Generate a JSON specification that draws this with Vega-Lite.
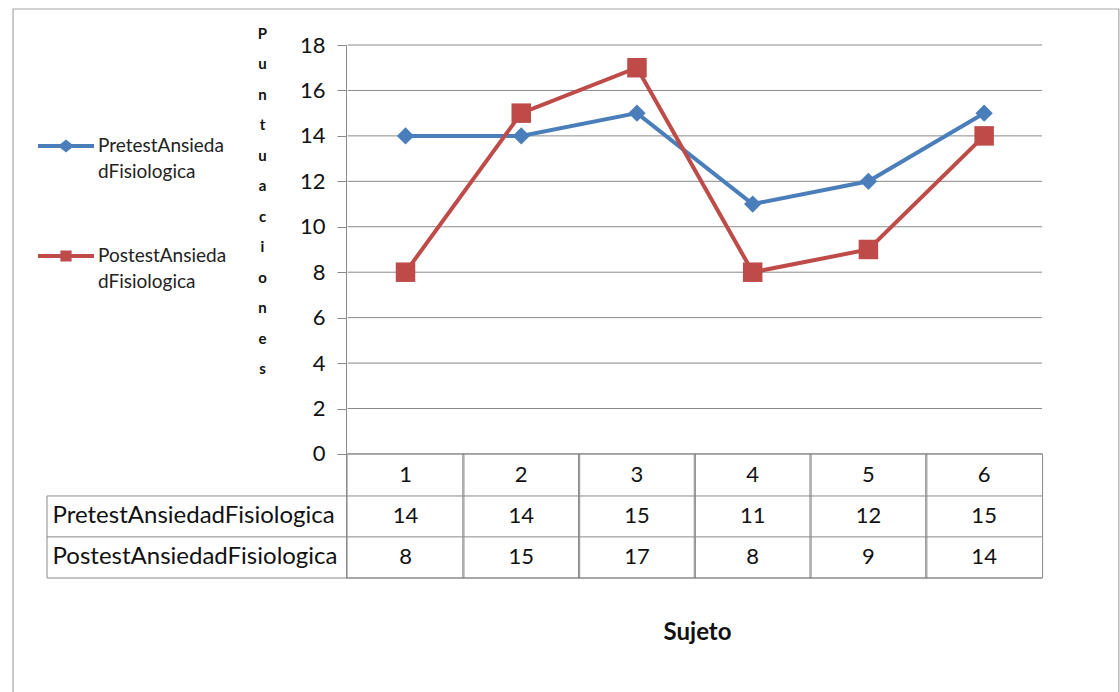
{
  "$schema": "https://vega.github.io/schema/vega-lite/v6.json",
  "autosize": "none",
  "width": 1005,
  "height": 533,
  "padding": {"left": 42, "top": 45, "right": 73, "bottom": 114},
  "background": "white",
  "config": {
    "view": {"stroke": null},
    "text": {"font": "Lato", "fontSize": 22, "color": "#111111"}
  },
  "datasets": {
    "scores": [
      {"Sujeto": 1, "Serie": "PretestAnsiedadFisiologica", "Puntuacion": 14},
      {"Sujeto": 2, "Serie": "PretestAnsiedadFisiologica", "Puntuacion": 14},
      {"Sujeto": 3, "Serie": "PretestAnsiedadFisiologica", "Puntuacion": 15},
      {"Sujeto": 4, "Serie": "PretestAnsiedadFisiologica", "Puntuacion": 11},
      {"Sujeto": 5, "Serie": "PretestAnsiedadFisiologica", "Puntuacion": 12},
      {"Sujeto": 6, "Serie": "PretestAnsiedadFisiologica", "Puntuacion": 15},
      {"Sujeto": 1, "Serie": "PostestAnsiedadFisiologica", "Puntuacion": 8},
      {"Sujeto": 2, "Serie": "PostestAnsiedadFisiologica", "Puntuacion": 15},
      {"Sujeto": 3, "Serie": "PostestAnsiedadFisiologica", "Puntuacion": 17},
      {"Sujeto": 4, "Serie": "PostestAnsiedadFisiologica", "Puntuacion": 8},
      {"Sujeto": 5, "Serie": "PostestAnsiedadFisiologica", "Puntuacion": 9},
      {"Sujeto": 6, "Serie": "PostestAnsiedadFisiologica", "Puntuacion": 14}
    ],
    "ticks": [{"v": 0}, {"v": 2}, {"v": 4}, {"v": 6}, {"v": 8}, {"v": 10}, {"v": 12}, {"v": 14}, {"v": 16}, {"v": 18}],
    "one": [{}]
  },
  "data": {"name": "scores"},
  "layer": [
    {
      "data": {"name": "one"},
      "mark": {"type": "rect", "fill": "white", "fillOpacity": 0, "stroke": "#a6a6a6", "strokeWidth": 1.2},
      "encoding": {
        "x": {"datum": -2.3916, "type": "quantitative"},
        "x2": {"datum": 7.164},
        "y": {"datum": 19.585, "type": "quantitative"},
        "y2": {"datum": -10.83}
      }
    },
    {
      "data": {"name": "ticks"},
      "mark": {"type": "rule", "color": "#8a8a8a", "strokeWidth": 1},
      "encoding": {
        "y": {"field": "v", "type": "quantitative"},
        "x": {"datum": 0.5, "type": "quantitative"},
        "x2": {"datum": 6.5}
      }
    },
    {
      "transform": [{"filter": "datum.Serie == 'PretestAnsiedadFisiologica'"}],
      "mark": {"type": "bar", "fill": "white", "fillOpacity": 0, "stroke": "#8a8a8a", "strokeWidth": 1, "size": 116.9},
      "encoding": {
        "x": {"field": "Sujeto", "type": "quantitative"},
        "y": {"datum": 0, "type": "quantitative"},
        "y2": {"datum": -5.46}
      }
    },
    {
      "data": {"name": "one"},
      "mark": {"type": "rule", "color": "#8a8a8a", "strokeWidth": 1},
      "encoding": {
        "y": {"datum": -1.85, "type": "quantitative"},
        "x": {"datum": -2.098, "type": "quantitative"},
        "x2": {"datum": 6.5}
      }
    },
    {
      "data": {"name": "one"},
      "mark": {"type": "rule", "color": "#8a8a8a", "strokeWidth": 1},
      "encoding": {
        "y": {"datum": -3.65, "type": "quantitative"},
        "x": {"datum": -2.098, "type": "quantitative"},
        "x2": {"datum": 6.5}
      }
    },
    {
      "data": {"name": "one"},
      "mark": {"type": "rule", "color": "#8a8a8a", "strokeWidth": 1},
      "encoding": {
        "y": {"datum": -5.46, "type": "quantitative"},
        "x": {"datum": -2.098, "type": "quantitative"},
        "x2": {"datum": 6.5}
      }
    },
    {
      "data": {"name": "one"},
      "mark": {"type": "rule", "color": "#8a8a8a", "strokeWidth": 1},
      "encoding": {
        "x": {"datum": -2.098, "type": "quantitative"},
        "y": {"datum": -1.85, "type": "quantitative"},
        "y2": {"datum": -5.46}
      }
    },
    {
      "mark": {"type": "line", "strokeWidth": 4},
      "encoding": {
        "x": {
          "field": "Sujeto", "type": "quantitative",
          "scale": {"domain": [-2.098, 6.5], "nice": false, "zero": false},
          "axis": {
            "title": "Sujeto", "labels": false, "ticks": false, "domain": false, "grid": false,
            "titleX": 655, "titleY": 54, "titleBaseline": "middle", "titleAlign": "center",
            "titleFont": "Lato", "titleFontSize": 24, "titleFontWeight": "bold", "titleColor": "#111111"
          }
        },
        "y": {
          "field": "Puntuacion", "type": "quantitative",
          "scale": {"domain": [-5.46, 18], "nice": false, "zero": false},
          "axis": {
            "values": [0, 2, 4, 6, 8, 10, 12, 14, 16, 18],
            "offset": -304, "grid": false,
            "domainColor": "#8a8a8a", "tickColor": "#8a8a8a", "tickSize": 9,
            "labelFont": "Lato", "labelFontSize": 22, "labelColor": "#111111", "labelPadding": 12,
            "title": ["P", "u", "n", "t", "u", "a", "c", "i", "o", "n", "e", "s"],
            "titleAngle": 0, "titleX": -84, "titleY": -19, "titleAlign": "center", "titleBaseline": "top",
            "titleFont": "Lato", "titleFontSize": 15, "titleFontWeight": "bold", "titleLineHeight": 30.5, "titleColor": "#111111"
          }
        },
        "color": {
          "field": "Serie", "type": "nominal",
          "scale": {"domain": ["PretestAnsiedadFisiologica", "PostestAnsiedadFisiologica"], "range": ["#4A7EBB", "#BE4B48"]},
          "legend": {
            "orient": "none", "legendX": -4, "legendY": 73, "title": null,
            "labelExpr": "[substring(datum.label, 0, 14), substring(datum.label, 14)]",
            "labelFont": "Lato", "labelFontSize": 19, "labelColor": "#222222", "labelLimit": 0, "labelOffset": 4,
            "symbolSize": 3136, "rowPadding": 46,
            "encode": {
              "symbols": {"update": {
                "shape": {"signal": "datum.value == 'PretestAnsiedadFisiologica' ? 'M-1,-0.07L-0.2,-0.07L0,-0.23L0.2,-0.07L1,-0.07L1,0.07L0.2,0.07L0,0.23L-0.2,0.07L-1,0.07Z' : 'M-1,-0.07L-0.2,-0.07L-0.2,-0.2L0.2,-0.2L0.2,-0.07L1,-0.07L1,0.07L0.2,0.07L0.2,0.2L-0.2,0.2L-0.2,0.07L-1,0.07Z'"},
                "fill": {"signal": "datum.value == 'PretestAnsiedadFisiologica' ? '#4A7EBB' : '#BE4B48'"},
                "stroke": {"value": "transparent"},
                "strokeWidth": {"value": 0},
                "opacity": {"value": 1}
              }},
              "labels": {"update": {"lineHeight": {"value": 26}}}
            }
          }
        }
      }
    },
    {
      "transform": [{"filter": "datum.Serie == 'PretestAnsiedadFisiologica'"}],
      "mark": {"type": "point", "shape": "diamond", "size": 300, "filled": true, "opacity": 1, "color": "#4A7EBB"},
      "encoding": {
        "x": {"field": "Sujeto", "type": "quantitative"},
        "y": {"field": "Puntuacion", "type": "quantitative"}
      }
    },
    {
      "transform": [{"filter": "datum.Serie == 'PostestAnsiedadFisiologica'"}],
      "mark": {"type": "point", "shape": "square", "size": 380, "filled": true, "opacity": 1, "color": "#BE4B48"},
      "encoding": {
        "x": {"field": "Sujeto", "type": "quantitative"},
        "y": {"field": "Puntuacion", "type": "quantitative"}
      }
    },
    {
      "transform": [{"filter": "datum.Serie == 'PretestAnsiedadFisiologica'"}],
      "mark": {"type": "text", "align": "center", "baseline": "middle"},
      "encoding": {
        "x": {"field": "Sujeto", "type": "quantitative"},
        "y": {"datum": -0.925, "type": "quantitative"},
        "text": {"field": "Sujeto", "type": "quantitative"}
      }
    },
    {
      "transform": [{"filter": "datum.Serie == 'PretestAnsiedadFisiologica'"}],
      "mark": {"type": "text", "align": "center", "baseline": "middle"},
      "encoding": {
        "x": {"field": "Sujeto", "type": "quantitative"},
        "y": {"datum": -2.75, "type": "quantitative"},
        "text": {"field": "Puntuacion", "type": "quantitative"}
      }
    },
    {
      "transform": [{"filter": "datum.Serie == 'PostestAnsiedadFisiologica'"}],
      "mark": {"type": "text", "align": "center", "baseline": "middle"},
      "encoding": {
        "x": {"field": "Sujeto", "type": "quantitative"},
        "y": {"datum": -4.555, "type": "quantitative"},
        "text": {"field": "Puntuacion", "type": "quantitative"}
      }
    },
    {
      "transform": [{"filter": "datum.Serie == 'PretestAnsiedadFisiologica' && datum.Sujeto == 1"}],
      "mark": {"type": "text", "align": "left", "baseline": "middle", "fontSize": 24},
      "encoding": {
        "x": {"datum": -2.05, "type": "quantitative"},
        "y": {"datum": -2.75, "type": "quantitative"},
        "text": {"field": "Serie", "type": "nominal"}
      }
    },
    {
      "transform": [{"filter": "datum.Serie == 'PostestAnsiedadFisiologica' && datum.Sujeto == 1"}],
      "mark": {"type": "text", "align": "left", "baseline": "middle", "fontSize": 24},
      "encoding": {
        "x": {"datum": -2.05, "type": "quantitative"},
        "y": {"datum": -4.555, "type": "quantitative"},
        "text": {"field": "Serie", "type": "nominal"}
      }
    }
  ]
}
